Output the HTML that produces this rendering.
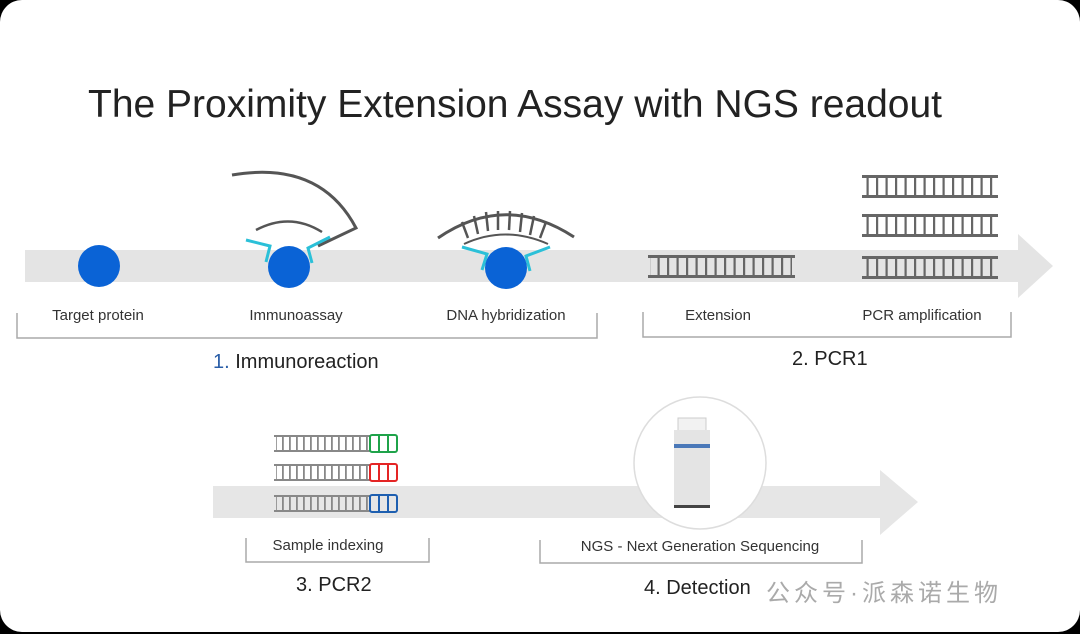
<!DOCTYPE html>
<html><head><meta charset="utf-8"><style>
html,body{margin:0;padding:0;background:#000;}
.card{position:absolute;left:0;top:0;width:1080px;height:632px;background:#fff;border-radius:22px;overflow:hidden;}
svg{position:absolute;left:0;top:0;}
text{font-family:"Liberation Sans","Noto Sans CJK SC",sans-serif;}
</style></head><body>
<div class="card">
<svg width="1080" height="634" viewBox="0 0 1080 634">
<defs>
<pattern id="rg" x="0" y="0" width="9.5" height="20" patternUnits="userSpaceOnUse">
<rect x="2" y="0" width="2.2" height="20" fill="#666"/>
</pattern>
<pattern id="rs" x="0" y="0" width="7" height="20" patternUnits="userSpaceOnUse">
<rect x="2" y="0" width="1.8" height="20" fill="#888"/>
</pattern>
</defs>
<text x="88" y="117" font-size="39" fill="#222">The Proximity Extension Assay with NGS readout</text>
<polygon points="25,250 1018,250 1018,234 1053,266 1018,298 1018,282 25,282" fill="#e4e4e4"/>
<polygon points="213,486 880,486 880,470 918,502 880,535 880,518 213,518" fill="#e6e6e6"/>
<circle cx="99" cy="266" r="21" fill="#0a63d6"/>
<path d="M232,175 Q320,160 356,228 L318,246" fill="none" stroke="#555" stroke-width="3"/>
<path d="M256,230 Q290,212 322,232" fill="none" stroke="#555" stroke-width="2.5"/>
<path d="M246,240 L270,246 L266,262 M330,237 L308,248 L312,263" fill="none" stroke="#2bc0d8" stroke-width="3"/>
<circle cx="289" cy="267" r="21" fill="#0a63d6"/>
<path d="M438,238 Q505,192 574,237" fill="none" stroke="#555" stroke-width="3"/>
<path d="M464,244 Q505,225 548,244" fill="none" stroke="#555" stroke-width="2"/>
<g stroke="#555" stroke-width="2.5"><line x1="462" y1="222" x2="468" y2="238"/><line x1="474" y1="216" x2="478" y2="234"/><line x1="486" y1="212" x2="488" y2="231"/><line x1="498" y1="211" x2="498" y2="230"/><line x1="510" y1="211" x2="509" y2="230"/><line x1="522" y1="213" x2="520" y2="232"/><line x1="534" y1="216" x2="530" y2="235"/><line x1="546" y1="222" x2="540" y2="238"/></g>
<path d="M462,247 L487,254 L482,270 M550,247 L526,256 L530,271" fill="none" stroke="#2bc0d8" stroke-width="3"/>
<circle cx="506" cy="268" r="21" fill="#0a63d6"/>
<g>
<rect x="650" y="257" width="142" height="19" fill="url(#rg)"/><rect x="648" y="255" width="147" height="3" fill="#666"/><rect x="648" y="275" width="147" height="3" fill="#666"/>
<rect x="864" y="176" width="132" height="19" fill="url(#rg)"/><rect x="862" y="175" width="136" height="3" fill="#666"/><rect x="862" y="195" width="136" height="3" fill="#666"/>
<rect x="864" y="215" width="132" height="19" fill="url(#rg)"/><rect x="862" y="214" width="136" height="3" fill="#666"/><rect x="862" y="234" width="136" height="3" fill="#666"/>
<rect x="864" y="257" width="132" height="19" fill="url(#rg)"/><rect x="862" y="256" width="136" height="3" fill="#666"/><rect x="862" y="276" width="136" height="3" fill="#666"/>
</g>
<g>
<rect x="276" y="436" width="94" height="15" fill="url(#rs)"/><rect x="274" y="435" width="96" height="2" fill="#888"/><rect x="274" y="450" width="96" height="2" fill="#888"/>
<rect x="370" y="435" width="27" height="17" rx="2" fill="none" stroke="#1fa34a" stroke-width="2"/><path d="M379,435v17M388,435v17" stroke="#1fa34a" stroke-width="2"/>
<rect x="276" y="465" width="94" height="15" fill="url(#rs)"/><rect x="274" y="464" width="96" height="2" fill="#888"/><rect x="274" y="479" width="96" height="2" fill="#888"/>
<rect x="370" y="464" width="27" height="17" rx="2" fill="none" stroke="#e42525" stroke-width="2"/><path d="M379,464v17M388,464v17" stroke="#e42525" stroke-width="2"/>
<rect x="276" y="496" width="94" height="15" fill="url(#rs)"/><rect x="274" y="495" width="96" height="2" fill="#888"/><rect x="274" y="510" width="96" height="2" fill="#888"/>
<rect x="370" y="495" width="27" height="17" rx="2" fill="none" stroke="#1e5fb0" stroke-width="2"/><path d="M379,495v17M388,495v17" stroke="#1e5fb0" stroke-width="2"/>
</g>
<circle cx="700" cy="463" r="66" fill="#fff" stroke="#ddd" stroke-width="1.5"/>
<rect x="678" y="418" width="28" height="16" fill="#f2f2f2" stroke="#ccc"/>
<rect x="674" y="430" width="36" height="76" fill="#e4e4e4"/>
<rect x="674" y="444" width="36" height="4" fill="#4a78b8"/>
<rect x="674" y="505" width="36" height="3" fill="#444"/>
<g fill="none" stroke="#aaa" stroke-width="1.5">
<path d="M17,313 V338 H597 V313"/>
<path d="M643,312 V337 H1011 V312"/>
<path d="M246,538 V562 H429 V538"/>
<path d="M540,540 V563 H862 V540"/>
</g>
<g font-size="15" fill="#333" text-anchor="middle">
<text x="98" y="320">Target protein</text>
<text x="296" y="320">Immunoassay</text>
<text x="506" y="320">DNA hybridization</text>
<text x="718" y="320">Extension</text>
<text x="922" y="320">PCR amplification</text>
<text x="328" y="550">Sample indexing</text>
<text x="700" y="551">NGS - Next Generation Sequencing</text>
</g>
<g font-size="20" fill="#222">
<text x="213" y="368"><tspan fill="#2a5ea8">1.</tspan> Immunoreaction</text>
<text x="792" y="365">2. PCR1</text>
<text x="296" y="591">3. PCR2</text>
<text x="644" y="594">4. Detection</text>
</g>
<text x="766" y="601" font-size="24" letter-spacing="4" fill="#aaa">公众号·派森诺生物</text>
</svg>
</div>
</body></html>
